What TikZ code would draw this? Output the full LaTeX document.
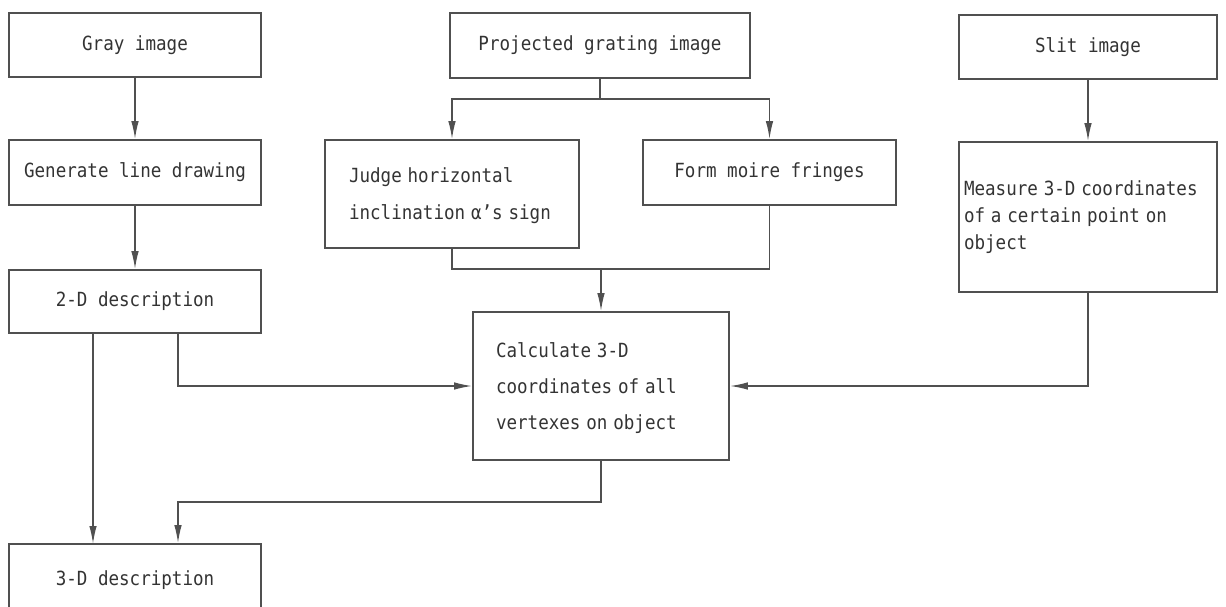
\documentclass[tikz,border=0pt]{standalone}
\usepackage{fontspec}
\usetikzlibrary{arrows.meta}
\newfontfamily\diag{DejaVu Sans Mono}
\definecolor{ln}{HTML}{505050}
\definecolor{tx}{HTML}{333333}
\newcommand{\dfont}[1]{\diag\fontsize{19.5}{#1}\selectfont}
\newcommand{\sq}[1]{\scalebox{0.9}[1]{#1}}
\newcommand{\lines}[1]{\sq{\begin{tabular}{@{}l@{}}#1\end{tabular}}}
\begin{document}
\begin{tikzpicture}[x=1pt,y=-1pt,
  box/.style={draw=ln,line width=1.6pt,rectangle,inner sep=0pt,text=tx,
    font=\dfont{27}},
  conn/.style={draw=ln,line width=1.6pt},
  arr/.style={conn,-{Latex[length=18pt,width=7.5pt]}}]
\useasboundingbox (0,0) rectangle (1226,606);
\clip (0,0) rectangle (1226,606);
% boxes
\node[box,minimum width=252pt,minimum height=64pt] (gray) at (135,45) {\sq{Gray image}};
\node[box,minimum width=252pt,minimum height=65pt] (gen) at (135,172.5) {\sq{Generate line drawing}};
\node[box,minimum width=252pt,minimum height=63pt] (twod) at (135,301.5) {\sq{2-D description}};
\node[box,minimum width=252pt,minimum height=72pt] (threed) at (135,580) {\sq{3-D description}};
\node[box,minimum width=300pt,minimum height=65pt] (proj) at (600,45.5) {\sq{Projected grating image}};
\node[box,minimum width=258pt,minimum height=64pt] (slit) at (1088,47) {\sq{Slit image}};
\node[box,minimum width=254pt,minimum height=108pt,inner xsep=24pt,text width=206pt,align=left,
  font=\dfont{37}] (judge) at (452,194) {\lines{Judge horizontal\\inclination α’s sign}};
\node[box,minimum width=253pt,minimum height=65pt] (form) at (769.5,172.5) {\sq{Form moire fringes}};
\node[box,minimum width=256pt,minimum height=148pt,inner xsep=23pt,text width=210pt,align=left,
  font=\dfont{36}] (calc) at (601,386) {\lines{Calculate 3-D\\coordinates of all\\vertexes on object}};
\node[box,minimum width=258pt,minimum height=150pt,inner xsep=5pt,text width=248pt,align=left] (meas) at (1088,217) {\lines{Measure 3-D coordinates\\of a certain point on\\object}};
% junction points
\coordinate (pj) at (600,99);
\coordinate (jl) at (452,99);
\coordinate (jr) at (769.5,99);
\coordinate (mj) at (601,269);
\coordinate (ml) at (452,269);
\coordinate (mr) at (769.5,269);
\coordinate (tl) at (93,333);
\coordinate (tr) at (178,333);
\coordinate (tlb) at (93,544);
\coordinate (trb) at (178,502);
\coordinate (cb) at (601,502);
% connectors
\draw[arr] (gray) -- (gen);
\draw[arr] (gen) -- (twod);
\draw[arr] (slit) -- (meas);
\draw[conn] (proj.south) -- (pj);
\draw[arr] (pj) -- (jl) -- (judge.north);
\draw[arr] (pj) -- (jr) -- (form.north);
\draw[conn] (judge.south) -- (ml) -- (mr) -- (form.south);
\draw[arr] (mj) -- (calc.north);
\draw[arr] (tl) -- (tlb);
\draw[arr] (tr) |- (calc.west);
\draw[arr] (meas.south) |- (calc.east);
\draw[arr] (calc.south) -- (cb) -- (trb) -- (threed.north -| trb);
\end{tikzpicture}
\end{document}
